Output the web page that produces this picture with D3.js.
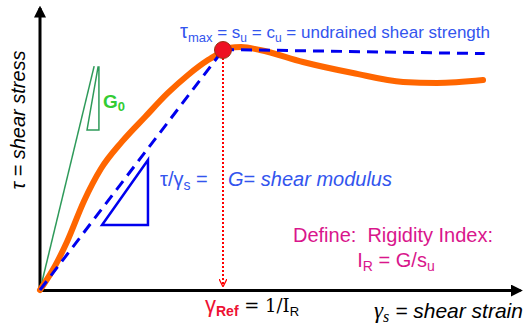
<!DOCTYPE html>
<html lang="en">
<head>
<meta charset="UTF-8">
<title>Shear stress - shear strain</title>
<style>
body { margin: 0; background: #fff; }
svg { display: block; font-family: Arial, "Liberation Sans", sans-serif; }
.axis path { stroke: #000; stroke-width: 3; }
.axis .tick { display: none; }
</style>
</head>
<body>
<svg width="526" height="335"></svg>
<script src="https://d3js.org/d3.v7.min.js"></script>
<script>

// strain normalised by gamma_ref, stress normalised by s_u
let strainMax = 2.623;
let stressMax = 1.175;

// stress-strain curve
let curveStrain = [0, 0.082, 0.147, 0.240, 0.333, 0.448, 0.574, 0.699, 0.809, 0.918, 0.984, 1.03, 1.1, 1.202, 1.437, 1.71, 1.984, 2.169, 2.421];
let curveStress = [0, 0.1, 0.2, 0.37, 0.505, 0.618, 0.721, 0.821, 0.896, 0.958, 0.988, 1.008, 1.012, 1.0, 0.95, 0.904, 0.867, 0.863, 0.875];

// secant to peak, then the s_u plateau
let secantStrain = [0, 1];
let secantStress = [0, 1];
let plateauStrain = [1, 2.43];
let plateauStress = [1.002, 0.985];

// initial tangent (G0) and its slope triangle
let tangentStrain = [0, 0.296];
let tangentStress = [0, 0.933];
let g0TriStrain = [0.317, 0.257, 0.322, 0.322];
let g0TriStress = [0.929, 0.667, 0.667, 0.929];

// secant slope triangle
let gTriStrain = [0.59, 0.339, 0.59, 0.59];
let gTriStress = [0.542, 0.271, 0.271, 0.542];

// peak point
let peakStrain = 1;
let peakStress = 1;

var svg = d3.select('svg');

var x = d3.scaleLinear().domain([0, strainMax]).range([40, 520]);
var y = d3.scaleLinear().domain([0, stressMax]).range([290, 8]);

var defs = svg.append('defs');

defs.append('marker')
    .attr('id', 'axisHead')
    .attr('viewBox', '0 0 10 10')
    .attr('refX', 8)
    .attr('refY', 5)
    .attr('markerWidth', 4)
    .attr('markerHeight', 4)
    .attr('markerUnits', 'strokeWidth')
    .attr('orient', 'auto')
  .append('path')
    .attr('d', 'M0,0L10,5L0,10Z')
    .attr('fill', '#000');

defs.append('marker')
    .attr('id', 'redHead')
    .attr('viewBox', '0 0 10 10')
    .attr('refX', 9)
    .attr('refY', 5)
    .attr('markerWidth', 4)
    .attr('markerHeight', 4)
    .attr('markerUnits', 'strokeWidth')
    .attr('orient', 'auto')
  .append('path')
    .attr('d', 'M0,0L10,5L0,10')
    .attr('fill', 'none')
    .attr('stroke', '#f00')
    .attr('stroke-width', 1.6);

var line = d3.line()
    .x(d => x(d[0]))
    .y(d => y(d[1]));

var zip = (a, b) => a.map((v, i) => [v, b[i]]);

/*---- axes ----*/
svg.append('g')
    .attr('class', 'axis')
    .attr('transform', `translate(0, ${y(0)})`)
    .call(d3.axisBottom(x).tickValues([]).tickSizeOuter(0))
    .select('.domain')
    .attr('marker-end', 'url(#axisHead)');

svg.append('g')
    .attr('class', 'axis')
    .attr('transform', `translate(${x(0)}, 0)`)
    .call(d3.axisLeft(y).tickValues([]).tickSizeOuter(0))
    .select('.domain')
    .attr('d', `M0,${y(0) + 1.5}V${y(stressMax)}`)
    .attr('marker-end', 'url(#axisHead)');

/*---- G0 tangent ----*/
svg.append('path')
    .attr('d', line(zip(tangentStrain, tangentStress)))
    .attr('fill', 'none')
    .attr('stroke', '#2e9a5a')
    .attr('stroke-width', 1.5);

svg.append('path')
    .attr('d', line(zip(g0TriStrain, g0TriStress)) + 'Z')
    .attr('fill', 'none')
    .attr('stroke', '#2e9a5a')
    .attr('stroke-width', 1.5);

/*---- secant triangle ----*/
svg.append('path')
    .attr('d', line(zip(gTriStrain, gTriStress)) + 'Z')
    .attr('fill', 'none')
    .attr('stroke', '#0000ee')
    .attr('stroke-width', 2.5);

/*---- red dotted drop line ----*/
svg.append('line')
    .attr('x1', x(peakStrain))
    .attr('x2', x(peakStrain))
    .attr('y1', y(peakStress) + 8)
    .attr('y2', y(0) - 4)
    .attr('stroke', '#f00')
    .attr('stroke-width', 2)
    .attr('stroke-dasharray', '2,2')
    .attr('marker-end', 'url(#redHead)');

/*---- orange curve ----*/
svg.append('path')
    .attr('d', line.curve(d3.curveMonotoneX)(zip(curveStrain, curveStress)))
    .attr('fill', 'none')
    .attr('stroke', '#ff6600')
    .attr('stroke-width', 6)
    .attr('stroke-linecap', 'round');
line.curve(d3.curveLinear);

/*---- blue dashed secant + plateau ----*/
[zip(secantStrain, secantStress), zip(plateauStrain, plateauStress)].forEach(pts => {
    svg.append('path')
        .attr('d', line(pts))
        .attr('fill', 'none')
        .attr('stroke', '#0000ee')
        .attr('stroke-width', 3)
        .attr('stroke-dasharray', '11,7');
});

/*---- peak dot ----*/
svg.append('circle')
    .attr('cx', x(peakStrain))
    .attr('cy', y(peakStress))
    .attr('r', 8.5)
    .attr('fill', '#ee1122')
    .attr('stroke', '#993311')
    .attr('stroke-width', 1);

/*---- texts ----*/
var blue = '#3355ee';

var topLabel = svg.append('text')
    .attr('x', 180)
    .attr('y', 38)
    .attr('fill', blue)
    .attr('font-size', 17);
topLabel.append('tspan').attr('font-size', 20).text('τ');
topLabel.append('tspan').attr('font-size', 13).attr('dy', 4).text('max');
topLabel.append('tspan').attr('dy', -4).text(' = s');
topLabel.append('tspan').attr('font-size', 12).attr('dy', 4).text('u');
topLabel.append('tspan').attr('dy', -4).text(' = c');
topLabel.append('tspan').attr('font-size', 12).attr('dy', 4).text('u');
topLabel.append('tspan').attr('dy', -4).text(' = undrained shear strength');

svg.append('text')
    .attr('x', 103)
    .attr('y', 108)
    .attr('fill', '#33cc33')
    .attr('font-size', 19)
    .attr('font-weight', 'bold')
    .text('G')
  .append('tspan')
    .attr('font-size', 13)
    .attr('dy', 3)
    .text('0');

var tg = svg.append('text')
    .attr('x', 160)
    .attr('y', 186)
    .attr('fill', blue)
    .attr('font-size', 20);
tg.append('tspan').text('τ/γ');
tg.append('tspan').attr('font-size', 14).attr('dy', 4).text('s');
tg.append('tspan').attr('dy', -4).text(' =');

var gm = svg.append('text')
    .attr('x', 228)
    .attr('y', 186)
    .attr('fill', blue)
    .attr('font-size', 20);
gm.append('tspan').attr('font-style', 'italic').text('G');
gm.append('tspan').text('= ');
gm.append('tspan').attr('font-style', 'italic').text('shear modulus');

var magenta = '#d9168c';
svg.append('text')
    .attr('x', 393)
    .attr('y', 242)
    .attr('fill', magenta)
    .attr('font-size', 20)
    .attr('text-anchor', 'middle')
    .attr('xml:space', 'preserve')
    .text('Define:  Rigidity Index:');

var ir = svg.append('text')
    .attr('x', 396)
    .attr('y', 267)
    .attr('fill', magenta)
    .attr('font-size', 20)
    .attr('text-anchor', 'middle');
ir.append('tspan').text('I');
ir.append('tspan').attr('font-size', 14).attr('dy', 4).text('R');
ir.append('tspan').attr('dy', -4).text(' = G/s');
ir.append('tspan').attr('font-size', 14).attr('dy', 4).text('u');

var gr = svg.append('text')
    .attr('x', 205)
    .attr('y', 312)
    .attr('font-size', 22);
gr.append('tspan').attr('fill', '#ee1133').text('γ');
gr.append('tspan').attr('fill', '#ee1133').attr('font-size', 14).attr('font-weight', 'bold').attr('dy', 4).text('Ref');
gr.append('tspan').attr('fill', '#000').attr('font-family', '"DejaVu Serif", serif').attr('font-size', 18).attr('dy', -4).text(' = 1/I');
gr.append('tspan').attr('fill', '#000').attr('font-size', 13).attr('dy', 4).text('R');

var gs = svg.append('text')
    .attr('x', 374)
    .attr('y', 318)
    .attr('font-size', 21)
    .attr('fill', '#000');
gs.append('tspan').attr('font-family', '"Liberation Serif", serif').attr('font-style', 'italic').attr('font-size', 23).text('γ');
gs.append('tspan').attr('font-family', '"Liberation Serif", serif').attr('font-style', 'italic').attr('font-size', 16).attr('dy', 4).text('s');
gs.append('tspan').attr('font-style', 'italic').attr('dy', -4).text(' = shear strain');

svg.append('text')
    .attr('transform', 'translate(25,120) rotate(-90)')
    .attr('text-anchor', 'middle')
    .attr('font-size', 20)
    .attr('font-style', 'italic')
    .attr('fill', '#000')
    .text('τ = shear stress');

</script>
</body>
</html>
